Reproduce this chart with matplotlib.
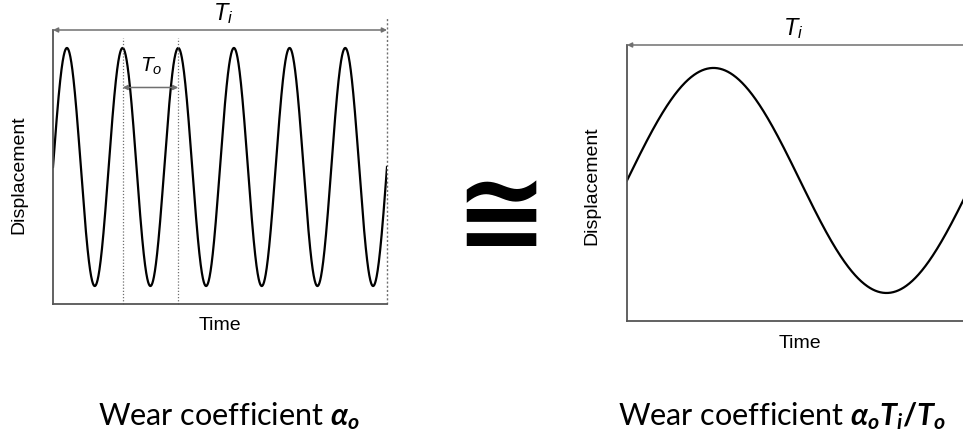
import numpy as np
import matplotlib.pyplot as plt

# Data -- sine displacement over time, time measured in units of T_o
LEFT_CYCLES = 6          # six short cycles T_o fit into T_i
RIGHT_CYCLES = 1         # one long cycle T_i
AMPLITUDE = 1.0
MARKED_PEAKS = [1.25, 2.25]   # peaks bracketing T_o
X_LABEL = 'Time'
Y_LABEL = 'Displacement'
LEFT_CAPTION = r'Wear coefficient $\alpha_o$'
RIGHT_CAPTION = r'Wear coefficient $\alpha_o T_i/T_o$'

plt.rcParams['font.family'] = ['Liberation Sans', 'DejaVu Sans']
plt.rcParams['mathtext.fontset'] = 'custom'
plt.rcParams['mathtext.it'] = 'Lato:italic:bold'
plt.rcParams['mathtext.rm'] = 'Lato:bold'
plt.rcParams['mathtext.sf'] = 'Liberation Sans:italic'

SPINE = '#555555'
GUIDE = '#707070'

fig = plt.figure(figsize=(9.63, 4.41), dpi=100)
W, H = 963, 441


def px_axes(x0, x1, ytop, ybot):
    return fig.add_axes([x0 / W, (H - ybot) / H, (x1 - x0) / W, (ybot - ytop) / H])


def style(ax):
    for s in ['top', 'right']:
        ax.spines[s].set_visible(False)
    for s in ['left', 'bottom']:
        ax.spines[s].set_color(SPINE)
        ax.spines[s].set_linewidth(1.3)
    ax.set_xticks([])
    ax.set_yticks([])


def span_arrow(ax, x0, x1, y, coords):
    ax.annotate('', xy=(x1, y), xytext=(x0, y), xycoords=coords,
                arrowprops=dict(arrowstyle='<|-|>', color=GUIDE, lw=1.1,
                                mutation_scale=7, shrinkA=0, shrinkB=0),
                annotation_clip=False)


# Left panel: many short cycles
ax1 = px_axes(53, 387, 30, 304)
t1 = np.linspace(0, LEFT_CYCLES, 2000)
ax1.plot(t1, AMPLITUDE * np.sin(2 * np.pi * t1), color='black', lw=1.6)
ax1.set_xlim(0, LEFT_CYCLES)
ax1.set_ylim(-1.151, 1.151)
style(ax1)
for p in MARKED_PEAKS:
    ax1.plot([p, p], [0, 0.971], transform=ax1.get_xaxis_transform(),
             color=GUIDE, lw=0.9, ls=(0, (1, 1.5)), clip_on=False)
ax1.plot([LEFT_CYCLES, LEFT_CYCLES], [0, 1.047], transform=ax1.get_xaxis_transform(),
         color=GUIDE, lw=1.0, ls=(0, (1.5, 1.5)), clip_on=False)
span_arrow(ax1, 0, 1, 1, 'axes fraction')
span_arrow(ax1, MARKED_PEAKS[0], MARKED_PEAKS[1], 0.668, 'data')
ax1.text(0.51, 1.036, r'$\mathsf{T_i}$', transform=ax1.transAxes,
         ha='center', va='baseline', fontsize=17)
ax1.text(1.76, 0.80, r'$\mathsf{T_o}$', ha='center', va='baseline', fontsize=15)
ax1.set_xlabel(X_LABEL, fontsize=14)
ax1.xaxis.set_label_coords(0.5, -0.047)
ax1.set_ylabel(Y_LABEL, fontsize=14)
ax1.yaxis.set_label_coords(-0.078, 0.471)

# Right panel: one long cycle (runs past the image edge)
ax2 = px_axes(627, 973, 45, 321)
t2 = np.linspace(0, RIGHT_CYCLES, 800)
ax2.plot(t2, AMPLITUDE * np.sin(2 * np.pi * t2), color='black', lw=1.6)
ax2.set_xlim(0, RIGHT_CYCLES)
ax2.set_ylim(-1.249, 1.204)
style(ax2)
span_arrow(ax2, 0, 1, 1, 'axes fraction')
ax2.text(0.48, 1.036, r'$\mathsf{T_i}$', transform=ax2.transAxes,
         ha='center', va='baseline', fontsize=17)
ax2.set_xlabel(X_LABEL, fontsize=14)
ax2.xaxis.set_label_coords(0.5, -0.0507)
ax2.set_ylabel(Y_LABEL, fontsize=14)
ax2.yaxis.set_label_coords(-0.078, 0.489)

# congruence sign between the panels
fig.text(501 / W, 1 - 219 / H, '\u2245', ha='center', va='center',
         fontsize=80, fontweight='bold', family='DejaVu Sans')

# captions
fig.text(229 / W, (H - 425) / H, LEFT_CAPTION, ha='center', va='baseline',
         fontsize=22, family='Lato')
fig.text(782 / W, (H - 425) / H, RIGHT_CAPTION, ha='center', va='baseline',
         fontsize=22, family='Lato')

fig.savefig('out.png', dpi=100)
